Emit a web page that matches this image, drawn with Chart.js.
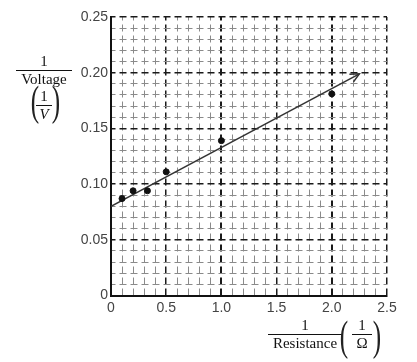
<!DOCTYPE html>
<html>
<head>
<meta charset="utf-8">
<script src="https://cdn.jsdelivr.net/npm/chart.js@4"></script>
<style>
    body { margin: 0; background: #ffffff; }
    #wrap { position: relative; width: 417px; height: 362px; }
    .lbl { position: absolute; font-family: "Liberation Serif", "DejaVu Serif", serif; color: #111; text-align: center; }
    .frac { position: absolute; text-align: center; }
    .frac .num { display: block; }
    .frac .den { display: block; border-top: 1px solid #111; }
    .paren { position: absolute; font-family: "Liberation Serif", serif; font-weight: 100; color: #222; }
</style>
</head>
<body>
<div id="wrap">
    <canvas id="chart" width="417" height="362"></canvas>

    <!-- y axis label: 1 / Voltage (1/V) -->
    <div class="lbl frac" style="left:16px; top:53px; width:56px; font-size:15px; line-height:17px;">
        <span class="num">1</span><span class="den">Voltage</span>
    </div>
    <div class="paren" style="left:28px; top:78px; font-size:42px; line-height:46px; transform:scaleX(0.6);">(</div>
    <div class="paren" style="left:49px; top:78px; font-size:42px; line-height:46px; transform:scaleX(0.6);">)</div>
    <div class="lbl frac" style="left:36px; top:88px; width:16px; font-size:15px; line-height:17px;">
        <span class="num">1</span><span class="den" style="font-style:italic;">V</span>
    </div>

    <!-- x axis label: 1 / Resistance (1/Ω) -->
    <div class="lbl frac" style="left:268px; top:317px; width:74px; font-size:15px; line-height:17px;">
        <span class="num">1</span><span class="den">Resistance</span>
    </div>
    <div class="paren" style="left:337px; top:313px; font-size:42px; line-height:46px; transform:scaleX(0.6);">(</div>
    <div class="paren" style="left:370px; top:313px; font-size:42px; line-height:46px; transform:scaleX(0.6);">)</div>
    <div class="lbl frac" style="left:352px; top:317px; width:20px; font-size:15px; line-height:17px;">
        <span class="num">1</span><span class="den">Ω</span>
    </div>
</div>

<script>
    var resistanceInv = [0.1, 0.2, 0.33, 0.5, 1.0, 2.0];
    var voltageInv = [0.087, 0.094, 0.094, 0.111, 0.139, 0.181];

    // best fit line drawn by hand (ends in an arrow)
    var fitX = [0, 2.25];
    var fitY = [0.08, 0.199];

    var xTickLabels = ["0", "0.5", "1.0", "1.5", "2.0", "2.5"];
    var yTickLabels = ["0", "0.05", "0.10", "0.15", "0.20", "0.25"];

    var points = [];
    for (var i = 0; i < resistanceInv.length; i++) {
        points.push({x: resistanceInv[i], y: voltageInv[i]});
    }
    var fit = [];
    for (var j = 0; j < fitX.length; j++) {
        fit.push({x: fitX[j], y: fitY[j]});
    }

    function isMajor(v, step) {
        var r = v / step;
        return Math.abs(r - Math.round(r)) < 1e-6;
    }

    // open arrow head at the end of the fit line
    var arrowPlugin = {
        id: "arrowHead",
        afterDatasetsDraw: function (chart) {
            var meta = chart.getDatasetMeta(1);
            var n = meta.data.length;
            var p1 = meta.data[n - 2];
            var p2 = meta.data[n - 1];
            var ang = Math.atan2(p2.y - p1.y, p2.x - p1.x);
            var len = 10;
            var ctx = chart.ctx;
            ctx.save();
            ctx.strokeStyle = "#333333";
            ctx.lineWidth = 1.5;
            ctx.beginPath();
            ctx.moveTo(p2.x - len * Math.cos(ang - 0.45), p2.y - len * Math.sin(ang - 0.45));
            ctx.lineTo(p2.x, p2.y);
            ctx.lineTo(p2.x - len * Math.cos(ang + 0.45), p2.y - len * Math.sin(ang + 0.45));
            ctx.stroke();
            ctx.restore();
        }
    };

    var tickFont = {family: "'Liberation Sans', Arial, sans-serif", size: 14};

    var chart = new Chart(document.getElementById("chart"), {
        type: "scatter",
        data: {
            datasets: [{
                data: points,
                backgroundColor: "#111111",
                borderColor: "#111111",
                pointRadius: 3,
                pointHoverRadius: 3
            }, {
                type: "line",
                data: fit,
                borderColor: "#333333",
                borderWidth: 1.5,
                pointRadius: 0,
                fill: false
            }]
        },
        options: {
            responsive: false,
            animation: false,
            layout: {
                padding: {top: 17, right: 30, bottom: 0, left: 0}
            },
            plugins: {
                legend: {display: false},
                tooltip: {enabled: false}
            },
            scales: {
                x: {
                    type: "linear",
                    min: 0,
                    max: 2.5,
                    afterBuildTicks: function (scale) {
                        var t = [];
                        for (var k = 0; k <= 25; k++) t.push({value: k / 10});
                        scale.ticks = t;
                    },
                    afterFit: function (scale) { scale.height = 66.5; },
                    ticks: {
                        autoSkip: false,
                        maxRotation: 0,
                        padding: 4,
                        color: "#444444",
                        font: tickFont,
                        callback: function (v) {
                            if (!isMajor(v, 0.5)) return "";
                            return xTickLabels[Math.round(v / 0.5)];
                        }
                    },
                    grid: {
                        drawTicks: false,
                        color: function (c) {
                            return isMajor(c.tick.value, 0.5) ? "#1a1a1a" : "#8a8a8a";
                        },
                        lineWidth: function (c) {
                            var v = c.tick.value;
                            if (isMajor(v, 1) && v > 0 && v < 2.5) return 2;
                            return isMajor(v, 0.5) ? 1.5 : 1;
                        }
                    },
                    border: {display: true, color: "#111111", width: 2, dash: [7, 4], dashOffset: 3.5}
                },
                y: {
                    type: "linear",
                    min: 0,
                    max: 0.25,
                    afterBuildTicks: function (scale) {
                        var t = [];
                        for (var k = 0; k <= 25; k++) t.push({value: k / 100});
                        scale.ticks = t;
                    },
                    afterFit: function (scale) { scale.width = 111; },
                    ticks: {
                        autoSkip: false,
                        padding: 3,
                        color: "#444444",
                        font: tickFont,
                        callback: function (v) {
                            if (!isMajor(v, 0.05)) return "";
                            return yTickLabels[Math.round(v / 0.05)];
                        }
                    },
                    grid: {
                        drawTicks: false,
                        color: function (c) {
                            return isMajor(c.tick.value, 0.05) ? "#1a1a1a" : "#8a8a8a";
                        },
                        lineWidth: function (c) {
                            return isMajor(c.tick.value, 0.05) ? 1.5 : 1;
                        }
                    },
                    border: {display: true, color: "#111111", width: 2, dash: [7, 4], dashOffset: 3.5}
                }
            }
        },
        plugins: [arrowPlugin]
    });
</script>
</body>
</html>
